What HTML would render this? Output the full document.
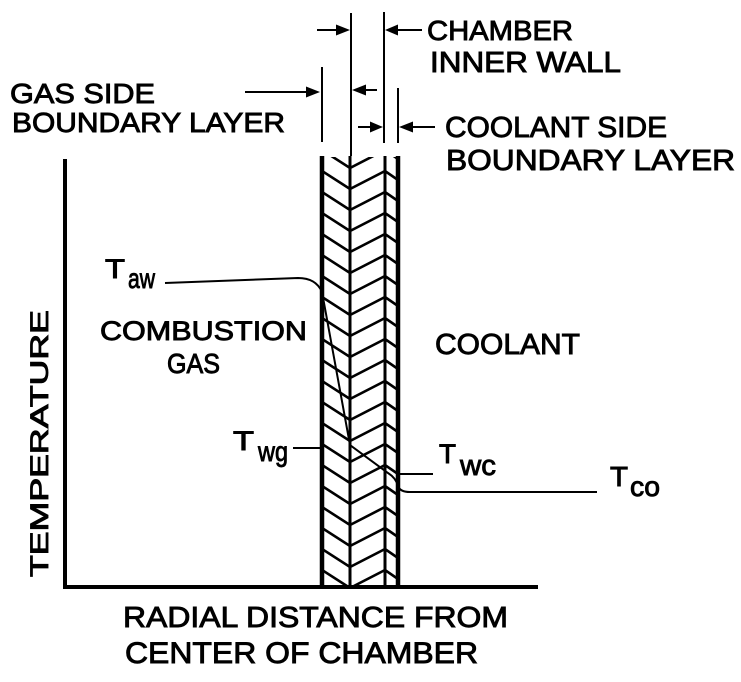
<!DOCTYPE html>
<html>
<head>
<meta charset="utf-8">
<style>
  html, body { margin: 0; padding: 0; background: #fff; }
  svg { display: block; }
  text { font-family: "Liberation Sans", "DejaVu Sans", sans-serif; fill: #000; stroke: #000; stroke-width: 0.9; }
</style>
</head>
<body>
<svg width="741" height="682" viewBox="0 0 741 682" xmlns="http://www.w3.org/2000/svg">
  <rect width="741" height="682" fill="#fff"/>
  <defs>
    <clipPath id="wallclip"><rect x="322" y="157" width="76" height="431"/></clipPath>
  </defs>

  <!-- Axes -->
  <line x1="65" y1="159" x2="65" y2="589" stroke="#000" stroke-width="4"/>
  <line x1="63" y1="587" x2="538" y2="587" stroke="#000" stroke-width="4"/>

  <!-- Wall hatching -->
  <g clip-path="url(#wallclip)" fill="none" stroke="#000" stroke-width="2.6" stroke-linejoin="miter">
    <path d="M322 150L350 168L385 150L398 159
             M322 171L350 189L385 171L398 180
             M322 192L350 210L385 192L398 201
             M322 213L350 231L385 213L398 222
             M322 234L350 252L385 234L398 243
             M322 255L350 273L385 255L398 264
             M322 276L350 294L385 276L398 285
             M322 297L350 315L385 297L398 306
             M322 318L350 336L385 318L398 327
             M322 339L350 357L385 339L398 348
             M322 360L350 378L385 360L398 369
             M322 381L350 399L385 381L398 390
             M322 402L350 420L385 402L398 411
             M322 423L350 441L385 423L398 432
             M322 444L350 462L385 444L398 453
             M322 465L350 483L385 465L398 474
             M322 486L350 504L385 486L398 495
             M322 507L350 525L385 507L398 516
             M322 528L350 546L385 528L398 537
             M322 549L350 567L385 549L398 558
             M322 570L350 588L385 570L398 579"/>
  </g>
  <!-- Wall vertical lines -->
  <line x1="322" y1="156" x2="322" y2="589" stroke="#000" stroke-width="4.5"/>
  <line x1="350" y1="156" x2="350" y2="589" stroke="#000" stroke-width="3"/>
  <line x1="385" y1="156" x2="385" y2="589" stroke="#000" stroke-width="3"/>
  <line x1="398" y1="156" x2="398" y2="589" stroke="#000" stroke-width="4.5"/>

  <!-- Temperature profile -->
  <path d="M165 283 L298 278 Q316 278 322 292 L350 445 L388 473 Q396 478 398 486 Q400 492 410 492 L597 492"
        fill="none" stroke="#000" stroke-width="2"/>
  <line x1="293" y1="448" x2="322" y2="448" stroke="#000" stroke-width="2"/>
  <line x1="400" y1="474" x2="433" y2="474" stroke="#000" stroke-width="2"/>

  <!-- Dimension lines -->
  <g stroke="#000" stroke-width="2">
    <line x1="322" y1="67" x2="322" y2="142"/>
    <line x1="351" y1="13" x2="351" y2="156"/>
    <line x1="384" y1="12" x2="384" y2="143"/>
    <line x1="398" y1="88" x2="398" y2="143"/>
    <line x1="317" y1="30" x2="340" y2="30"/>
    <line x1="422" y1="30" x2="395" y2="30"/>
    <line x1="245" y1="92" x2="310" y2="92"/>
    <line x1="377" y1="90" x2="362" y2="90"/>
    <line x1="358" y1="127" x2="373" y2="127"/>
    <line x1="435" y1="127" x2="410" y2="127"/>
  </g>
  <g fill="#000">
    <polygon points="336,24.5 350,30 336,35.5"/>
    <polygon points="398,24.5 385,30 398,35.5"/>
    <polygon points="306,86.5 320,92 306,97.5"/>
    <polygon points="366,84.5 352,90 366,95.5"/>
    <polygon points="370,121.5 383,127 370,132.5"/>
    <polygon points="413,121.5 399,127 413,132.5"/>
  </g>

  <!-- Labels -->
  <text x="10" y="103" font-size="28" textLength="145" lengthAdjust="spacingAndGlyphs">GAS SIDE</text>
  <text x="12" y="132" font-size="28" textLength="273" lengthAdjust="spacingAndGlyphs">BOUNDARY LAYER</text>

  <text x="427" y="40" font-size="28" textLength="146" lengthAdjust="spacingAndGlyphs">CHAMBER</text>
  <text x="430" y="72" font-size="29" textLength="191" lengthAdjust="spacingAndGlyphs">INNER WALL</text>
  <text x="445" y="137" font-size="29" textLength="222" lengthAdjust="spacingAndGlyphs">COOLANT SIDE</text>
  <text x="446" y="170" font-size="29" textLength="289" lengthAdjust="spacingAndGlyphs">BOUNDARY LAYER</text>

  <text x="100" y="340" font-size="27" textLength="207" lengthAdjust="spacingAndGlyphs">COMBUSTION</text>
  <text x="167" y="373" font-size="28" textLength="53" lengthAdjust="spacingAndGlyphs">GAS</text>
  <text x="435" y="354" font-size="29" textLength="145" lengthAdjust="spacingAndGlyphs">COOLANT</text>

  <text x="123" y="627" font-size="29" textLength="385" lengthAdjust="spacingAndGlyphs">RADIAL DISTANCE FROM</text>
  <text x="125" y="663" font-size="30" textLength="353" lengthAdjust="spacingAndGlyphs">CENTER OF CHAMBER</text>

  <text x="0" y="0" font-size="25" textLength="267" lengthAdjust="spacingAndGlyphs"
        transform="translate(48,577) rotate(-90)">TEMPERATURE</text>

  <!-- T labels -->
  <text x="105" y="278" font-size="27" textLength="20" lengthAdjust="spacingAndGlyphs">T</text>
  <text x="128" y="288" font-size="28" textLength="27" lengthAdjust="spacingAndGlyphs">aw</text>

  <text x="233" y="450" font-size="27" textLength="21" lengthAdjust="spacingAndGlyphs">T</text>
  <text x="258" y="461" font-size="28" textLength="30" lengthAdjust="spacingAndGlyphs">wg</text>

  <text x="439" y="463" font-size="27" textLength="17" lengthAdjust="spacingAndGlyphs">T</text>
  <text x="460" y="475" font-size="29" textLength="36" lengthAdjust="spacingAndGlyphs">wc</text>

  <text x="610" y="486" font-size="28" textLength="18" lengthAdjust="spacingAndGlyphs">T</text>
  <text x="630" y="496" font-size="28" textLength="30" lengthAdjust="spacingAndGlyphs">co</text>
</svg>
</body>
</html>
